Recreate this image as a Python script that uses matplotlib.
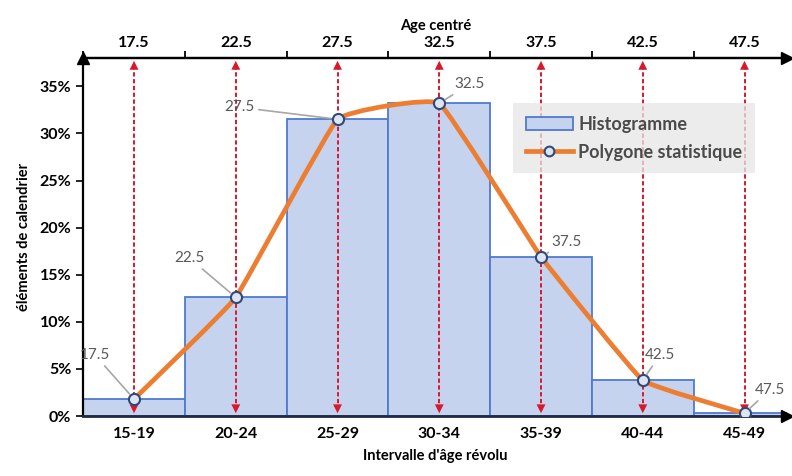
import numpy as np
import matplotlib
matplotlib.use("Agg")
from matplotlib import pyplot as plt
from matplotlib.path import Path
from matplotlib.patches import PathPatch
from matplotlib.ticker import PercentFormatter
from matplotlib.lines import Line2D
from matplotlib.patches import Patch

plt.rcParams['font.family'] = ['Lato', 'DejaVu Sans']

# data
intervals = ['15-19', '20-24', '25-29', '30-34', '35-39', '40-44', '45-49']
centres = ['17.5', '22.5', '27.5', '32.5', '37.5', '42.5', '47.5']
shares = [0.018, 0.126, 0.315, 0.332, 0.169, 0.038, 0.003]

# label offsets (pixels) for the data labels of the polygon
label_offsets = [(-39, 44), (-46, 39), (-98, 12), (30, 19), (25, 15), (17, 25), (25, 23)]

bar_face = '#c5d3ee'
bar_edge = '#4e7bd0'
orange = '#ed7d31'
red = '#d9182d'
grey_txt = '#595959'

fig = plt.figure(figsize=(7.92, 4.76), dpi=100)
ax = fig.add_axes([0.105, 0.126, 0.889, 0.752])

x = np.arange(len(intervals))
y = np.array(shares)

# histogram
ax.bar(x, y, width=1.0, color=bar_face, edgecolor=bar_edge, linewidth=1.3, zorder=1)

# red dashed double arrows from the top axis to the bottom axis
ymax = 0.38
for xi in x:
    ax.plot([xi, xi], [0.006, ymax - 0.006], color=red, lw=1.4, ls=(0, (2.2, 1.3)), zorder=2)
    ax.annotate('', xy=(xi, 0), xytext=(xi, 0.022),
                arrowprops=dict(arrowstyle='-|>', color=red, lw=0, mutation_scale=16), zorder=2)
    ax.annotate('', xy=(xi, ymax), xytext=(xi, ymax - 0.022),
                arrowprops=dict(arrowstyle='-|>', color=red, lw=0, mutation_scale=16), zorder=2, annotation_clip=False)

# lightly smoothed polygon (bezier through the points)
tension = 1 / 22.0
pts = np.column_stack([x, y])
ext = np.vstack([pts[0], pts, pts[-1]])
verts = [tuple(pts[0])]
codes = [Path.MOVETO]
for i in range(len(pts) - 1):
    p0, p1, p2, p3 = ext[i], ext[i + 1], ext[i + 2], ext[i + 3]
    c1 = p1 + (p2 - p0) * tension
    c2 = p2 - (p3 - p1) * tension
    verts += [tuple(c1), tuple(c2), tuple(p2)]
    codes += [Path.CURVE4] * 3
ax.add_patch(PathPatch(Path(verts, codes), fill=False, edgecolor=orange, lw=3.4, zorder=3, capstyle='round'))
ax.plot(x, y, ls='none', marker='o', ms=8, mfc='#dde5f3', mec='#2f4a7a', mew=1.5, zorder=4)

# data labels with leader lines
for xi, yi, lab, off in zip(x, y, centres, label_offsets):
    ax.annotate(lab, xy=(xi, yi), xytext=off, textcoords='offset pixels',
                ha='center', va='center', fontsize=11, color=grey_txt,
                arrowprops=dict(arrowstyle='-', color='#a6a6a6', lw=1.2, shrinkA=1, shrinkB=5),
                zorder=5)

ax.set_xlim(-0.5, 6.42)
ax.set_ylim(0, ymax)
ax.set_yticks(np.arange(0, 0.36, 0.05))
ax.yaxis.set_major_formatter(PercentFormatter(1.0, decimals=0))
ax.set_xticks(x)
ax.set_xticklabels(intervals, fontweight='bold', fontsize=11.5)
ax.tick_params(axis='x', length=0, pad=8)
ax.tick_params(axis='y', length=5, width=1.2, direction='out', labelsize=11.5)
for t in ax.get_yticklabels():
    t.set_fontweight('bold')

ax.spines['right'].set_visible(False)
ax.spines['left'].set_linewidth(1.6)
ax.spines['bottom'].set_linewidth(2.0)
ax.spines['bottom'].set_color('#1f2a44')
ax.spines['top'].set_linewidth(1.6)

# axis arrow heads
ax.plot([0], [1], marker='^', ms=9, color='black', transform=ax.transAxes, clip_on=False, zorder=6)
ax.plot([1], [1], marker='>', ms=9, color='black', transform=ax.transAxes, clip_on=False, zorder=6)
ax.plot([1], [0], marker='>', ms=9, color='black', transform=ax.transAxes, clip_on=False, zorder=6)

# top axis with centred ages
top = ax.secondary_xaxis('top')
top.set_xticks(x)
top.set_xticklabels(centres, fontweight='bold', fontsize=11.5)
top.set_xticks(np.arange(-0.5, 6.0, 1.0), minor=True)
top.tick_params(axis='x', which='major', length=0, pad=6)
top.tick_params(axis='x', which='minor', length=5, width=1.3, direction='out')
top.spines['top'].set_linewidth(1.6)
top.set_xlabel('Age centré', fontweight='bold', fontsize=10.5, labelpad=4)

ax.set_xlabel("Intervalle d'âge révolu", fontweight='bold', fontsize=10.5, labelpad=6)
ax.set_ylabel('éléments de calendrier', fontweight='bold', fontsize=10.5, labelpad=6)

handles = [Patch(facecolor=bar_face, edgecolor=bar_edge, lw=1.3),
           Line2D([], [], color=orange, lw=3.4, marker='o', ms=7, mfc='#dde5f3', mec='#2f4a7a', mew=1.5)]
leg = ax.legend(handles, ['Histogramme', 'Polygone statistique'], loc='upper left',
                bbox_to_anchor=(0.611, 0.874), frameon=True, fancybox=False,
                facecolor='#e6e6e6', edgecolor='none', framealpha=0.75,
                prop={'weight': 'bold', 'size': 13}, labelcolor='#4a4a4a',
                handlelength=2.6, borderpad=0.7, labelspacing=0.6, handletextpad=0.3,
                borderaxespad=0)
leg.set_zorder(7)

fig.savefig('out.png', dpi=100)
